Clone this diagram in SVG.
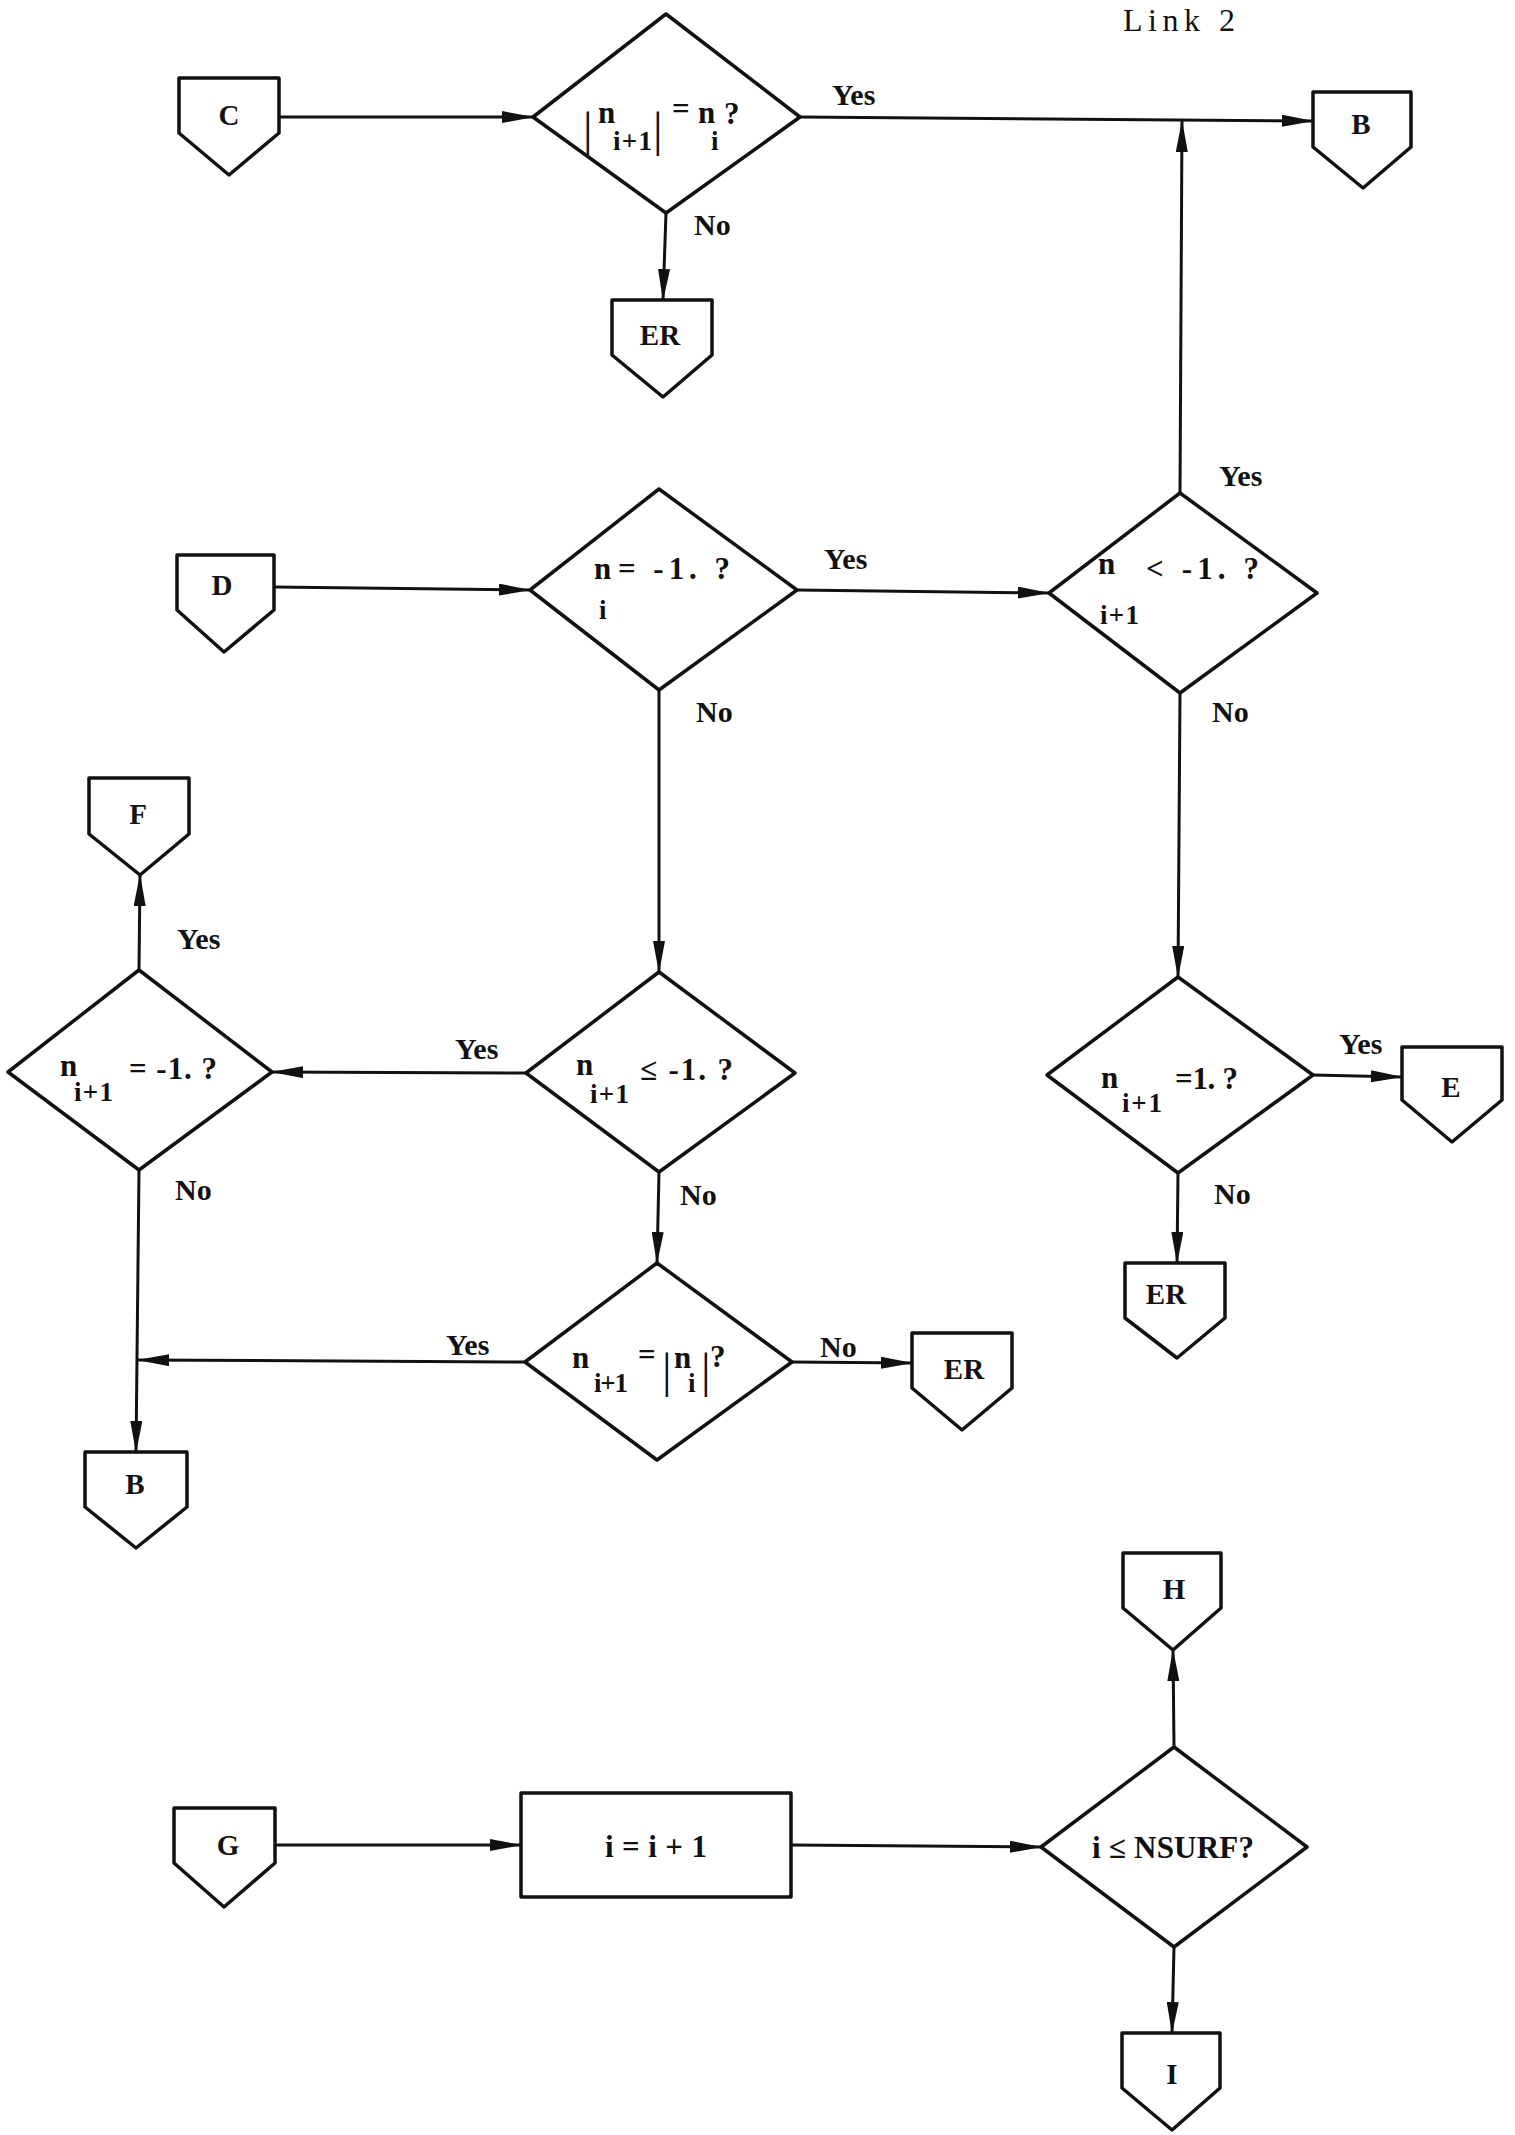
<svg xmlns="http://www.w3.org/2000/svg" width="1515" height="2135" viewBox="0 0 1515 2135">
<style>
.shape{fill:#fff;stroke:#111;stroke-width:3.5;stroke-linejoin:round}
.conn{fill:none;stroke:#111;stroke-width:3;marker-end:url(#arr)}
text{font-family:"Liberation Serif","Times New Roman",serif;font-weight:bold;fill:#111}
.lbl{font-size:30px}
.nd{font-size:29px;text-anchor:middle}
.f{font-size:31px}
.s{font-size:27px}
.bar{font-size:48px;font-weight:normal}
.title{font-size:32px;font-weight:normal}
</style>
<defs>
<marker id="arr" markerUnits="userSpaceOnUse" markerWidth="32" markerHeight="12" refX="31" refY="6" orient="auto">
<path d="M0,0 L32,6 L0,12 Z" fill="#111"/>
</marker>
</defs>
<rect width="1515" height="2135" fill="#fff"/>
<text class="title" x="1123" y="31" textLength="112" lengthAdjust="spacing">Link 2</text>

<g id="connectors">
<line class="conn" x1="279" y1="117" x2="533" y2="117"/>
<line class="conn" x1="800" y1="117" x2="1313" y2="121"/>
<line class="conn" x1="666" y1="213" x2="663" y2="300"/>
<line class="conn" x1="274" y1="587" x2="530" y2="590"/>
<line class="conn" x1="797" y1="590" x2="1049" y2="593"/>
<line class="conn" x1="1180" y1="493" x2="1182" y2="121"/>
<line class="conn" x1="1180" y1="693" x2="1178" y2="977"/>
<line class="conn" x1="659" y1="690" x2="659" y2="972"/>
<line class="conn" x1="1313" y1="1075" x2="1402" y2="1077"/>
<line class="conn" x1="1178" y1="1173" x2="1177" y2="1263"/>
<line class="conn" x1="526" y1="1073" x2="272" y2="1072"/>
<line class="conn" x1="139" y1="970" x2="140" y2="875"/>
<line class="conn" x1="139" y1="1170" x2="136" y2="1452"/>
<line class="conn" x1="659" y1="1172" x2="657" y2="1263"/>
<line class="conn" x1="525" y1="1362" x2="138" y2="1360"/>
<line class="conn" x1="792" y1="1362" x2="912" y2="1363"/>
<line class="conn" x1="275" y1="1845" x2="521" y2="1845"/>
<line class="conn" x1="791" y1="1845" x2="1041" y2="1847"/>
<line class="conn" x1="1174" y1="1747" x2="1173" y2="1650"/>
<line class="conn" x1="1174" y1="1947" x2="1172" y2="2033"/>
<text class="lbl" x="832" y="105">Yes</text>
<text class="lbl" x="694" y="235">No</text>
<text class="lbl" x="824" y="569">Yes</text>
<text class="lbl" x="1219" y="486">Yes</text>
<text class="lbl" x="1212" y="722">No</text>
<text class="lbl" x="696" y="722">No</text>
<text class="lbl" x="1339" y="1054">Yes</text>
<text class="lbl" x="1214" y="1204">No</text>
<text class="lbl" x="455" y="1059">Yes</text>
<text class="lbl" x="177" y="949">Yes</text>
<text class="lbl" x="175" y="1200">No</text>
<text class="lbl" x="680" y="1205">No</text>
<text class="lbl" x="446" y="1355">Yes</text>
<text class="lbl" x="820" y="1357">No</text>
</g>

<g id="node-C"><polygon class="shape" points="179,78 279,78 279,133 229,175 179,133"/><text class="nd" x="229" y="125">C</text></g>
<g id="node-B1"><polygon class="shape" points="1313,92 1411,92 1411,147 1363,188 1313,147"/><text class="nd" x="1361" y="134">B</text></g>
<g id="node-ER1"><polygon class="shape" points="612,300 712,300 712,355 663,397 612,355"/><text class="nd" x="660" y="345">ER</text></g>
<g id="node-D"><polygon class="shape" points="177,555 274,555 274,610 224,652 177,610"/><text class="nd" x="222" y="595">D</text></g>
<g id="node-F"><polygon class="shape" points="89,778 189,778 189,834 140,875 89,834"/><text class="nd" x="138" y="824">F</text></g>
<g id="node-E"><polygon class="shape" points="1402,1047 1502,1047 1502,1100 1452,1142 1402,1100"/><text class="nd" x="1451" y="1097">E</text></g>
<g id="node-ER2"><polygon class="shape" points="1125,1263 1225,1263 1225,1318 1177,1358 1125,1318"/><text class="nd" x="1166" y="1304">ER</text></g>
<g id="node-ER3"><polygon class="shape" points="912,1333 1012,1333 1012,1388 962,1430 912,1388"/><text class="nd" x="964" y="1379">ER</text></g>
<g id="node-B2"><polygon class="shape" points="85,1452 187,1452 187,1507 136,1548 85,1507"/><text class="nd" x="135" y="1494">B</text></g>
<g id="node-H"><polygon class="shape" points="1123,1553 1221,1553 1221,1608 1173,1650 1123,1608"/><text class="nd" x="1174" y="1599">H</text></g>
<g id="node-G"><polygon class="shape" points="174,1808 275,1808 275,1863 224,1907 174,1863"/><text class="nd" x="228" y="1855">G</text></g>
<g id="node-I"><polygon class="shape" points="1122,2033 1220,2033 1220,2088 1172,2130 1122,2088"/><text class="nd" x="1172" y="2084">I</text></g>

<g id="dec1"><polygon class="shape" points="666,14 800,117 666,213 533,117"/>
<text class="bar" x="583" y="146">|</text>
<text class="f" x="598" y="123">n</text>
<text class="s" x="613" y="150" textLength="39" lengthAdjust="spacing">i+1</text>
<text class="bar" x="653" y="146">|</text>
<text class="f" x="672" y="119">=</text>
<text class="f" x="698" y="123">n</text>
<text class="s" x="711" y="150">i</text>
<text class="f" x="724" y="124">?</text>
</g>
<g id="dec2"><polygon class="shape" points="659,489 797,590 659,690 530,590"/>
<text class="f" x="594" y="579">n</text>
<text class="s" x="599" y="619">i</text>
<text class="f" x="618" y="579" textLength="112" lengthAdjust="spacing">= -1. ?</text>
</g>
<g id="dec3"><polygon class="shape" points="1180,493 1317,593 1180,693 1049,593"/>
<text class="f" x="1098" y="574">n</text>
<text class="s" x="1100" y="624" textLength="39" lengthAdjust="spacing">i+1</text>
<text class="f" x="1146" y="579" textLength="113" lengthAdjust="spacing">&lt; -1. ?</text>
</g>
<g id="dec4"><polygon class="shape" points="139,970 272,1072 139,1170 8,1072"/>
<text class="f" x="60" y="1076">n</text>
<text class="s" x="74" y="1101" textLength="39" lengthAdjust="spacing">i+1</text>
<text class="f" x="129" y="1079" textLength="88" lengthAdjust="spacing">= -1. ?</text>
</g>
<g id="dec5"><polygon class="shape" points="659,972 795,1073 659,1172 526,1073"/>
<text class="f" x="576" y="1075">n</text>
<text class="s" x="590" y="1103" textLength="39" lengthAdjust="spacing">i+1</text>
<text class="f" x="640" y="1080" textLength="93" lengthAdjust="spacing">≤ -1. ?</text>
</g>
<g id="dec6"><polygon class="shape" points="1178,977 1313,1075 1178,1173 1047,1075"/>
<text class="f" x="1101" y="1088">n</text>
<text class="s" x="1122" y="1112" textLength="40" lengthAdjust="spacing">i+1</text>
<text class="f" x="1175" y="1089" textLength="63" lengthAdjust="spacing">=1. ?</text>
</g>
<g id="dec7"><polygon class="shape" points="657,1263 792,1362 657,1460 525,1362"/>
<text class="f" x="572" y="1368">n</text>
<text class="s" x="594" y="1392" textLength="34" lengthAdjust="spacing">i+1</text>
<text class="f" x="638" y="1365">=</text>
<text class="bar" x="662" y="1387">|</text>
<text class="f" x="674" y="1368">n</text>
<text class="s" x="688" y="1392">i</text>
<text class="bar" x="701" y="1387">|</text>
<text class="f" x="710" y="1367">?</text>
</g>
<g id="dec8"><polygon class="shape" points="1174,1747 1307,1847 1174,1947 1041,1847"/>
<text class="f" x="1092" y="1858" textLength="162" lengthAdjust="spacing">i ≤ NSURF?</text>
</g>
<g id="proc1"><rect class="shape" x="521" y="1793" width="270" height="104"/>
<text class="f" x="605" y="1857" textLength="102" lengthAdjust="spacing">i = i + 1</text>
</g>
</svg>
